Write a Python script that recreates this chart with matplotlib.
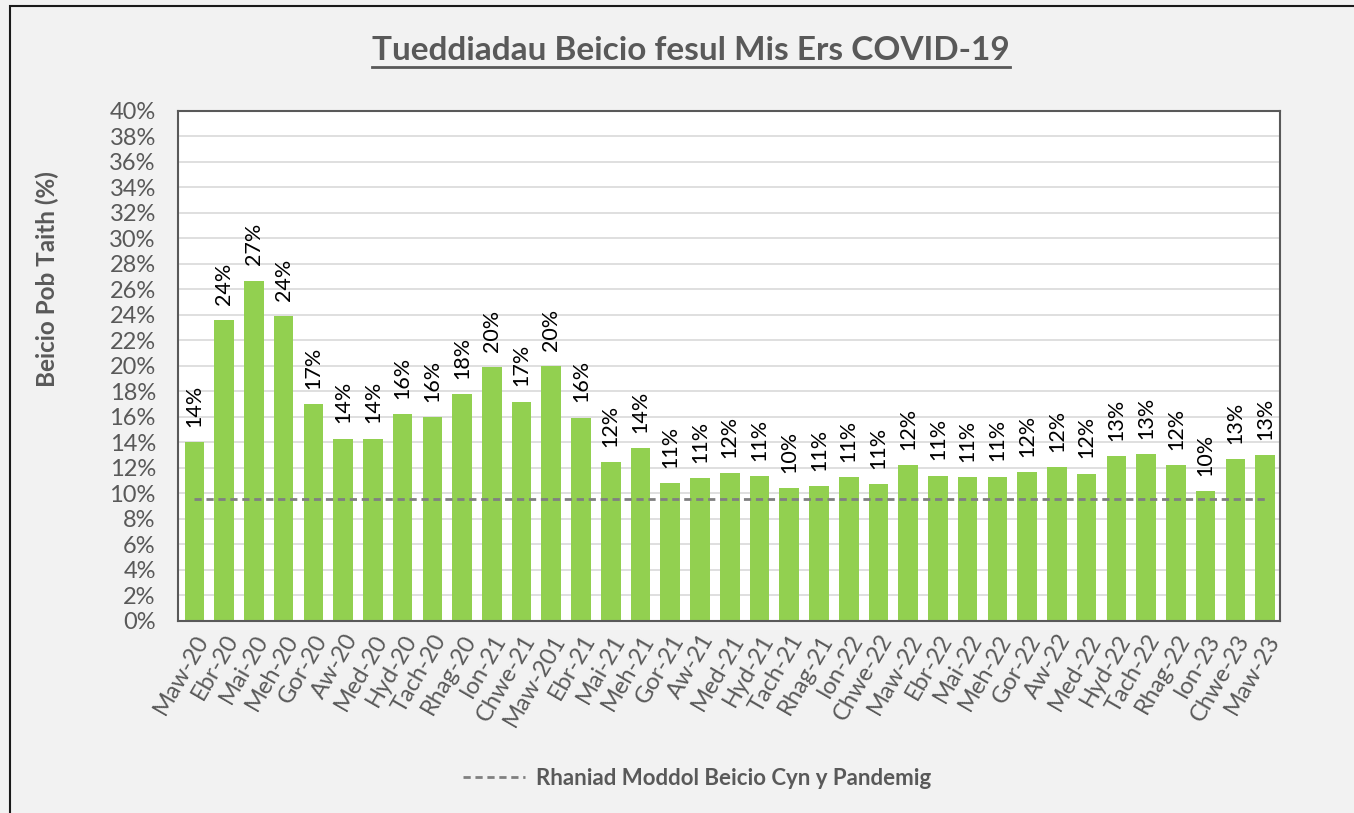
import matplotlib.pyplot as plt
from matplotlib.lines import Line2D
from matplotlib.patches import Rectangle
from matplotlib.ticker import MultipleLocator, PercentFormatter

plt.rcParams["font.family"] = ["Lato", "DejaVu Sans"]

# Monthly share of trips made by bike (%)
months = [
    "Maw-20", "Ebr-20", "Mai-20", "Meh-20", "Gor-20", "Aw-20", "Med-20",
    "Hyd-20", "Tach-20", "Rhag-20", "Ion-21", "Chwe-21", "Maw-201", "Ebr-21",
    "Mai-21", "Meh-21", "Gor-21", "Aw-21", "Med-21", "Hyd-21", "Tach-21",
    "Rhag-21", "Ion-22", "Chwe-22", "Maw-22", "Ebr-22", "Mai-22", "Meh-22",
    "Gor-22", "Aw-22", "Med-22", "Hyd-22", "Tach-22", "Rhag-22", "Ion-23",
    "Chwe-23", "Maw-23",
]
cycling_share = [
    14.0, 23.6, 26.7, 23.9, 17.0, 14.3, 14.3, 16.2, 16.0, 17.8, 19.9, 17.2,
    20.0, 15.95, 12.45, 13.55, 10.8, 11.2, 11.6, 11.36, 10.4, 10.55, 11.3,
    10.75, 12.25, 11.4, 11.3, 11.33, 11.7, 12.06, 11.55, 12.9, 13.1, 12.25,
    10.2, 12.7, 13.0,
]
pre_pandemic_share = 9.6

text_grey = "#595959"

figure = plt.figure(figsize=(13.54, 8.13), dpi=100, facecolor="#f2f2f2")
figure.add_artist(Rectangle((10 / 1354, -0.1), 1.2, 1.1 - 6 / 813,
                            transform=figure.transFigure, fill=False,
                            edgecolor="#1a1a1a", linewidth=1.5))

axes = figure.add_axes([0.1315, 0.2362, 0.8138, 0.6273])
positions = list(range(len(months)))
axes.bar(positions, cycling_share, width=0.66, color="#92d050", zorder=2)
axes.plot(positions, [pre_pandemic_share] * len(months), linestyle=(0, (2.6, 1.7)),
          color="#808080", linewidth=2.0, zorder=3,
          label="Rhaniad Moddol Beicio Cyn y Pandemig")

for position, value in zip(positions, cycling_share):
    axes.annotate(f"{round(value)}%", (position, value), xytext=(0, 11),
                  textcoords="offset points", rotation=90, ha="center",
                  va="bottom", fontsize=15.5, color="black")

axes.set_xlim(-0.55, len(months) - 0.5)
axes.set_ylim(0, 40)
axes.yaxis.set_major_locator(MultipleLocator(2))
axes.yaxis.set_major_formatter(PercentFormatter(decimals=0))
axes.set_xticks(positions)
axes.set_xticklabels(months, rotation=60, ha="right", rotation_mode="anchor")
axes.tick_params(axis="both", length=0, labelsize=17, labelcolor=text_grey)
axes.tick_params(axis="x", pad=7)
axes.tick_params(axis="y", pad=16)
axes.grid(axis="y", color="#d9d9d9", linewidth=1.2, zorder=0)
axes.set_axisbelow(True)
for spine in axes.spines.values():
    spine.set_color(text_grey)
    spine.set_linewidth(1.5)

figure.text(47 / 1354, 1 - 279 / 813, "Beicio Pob Taith (%)", rotation=90,
            ha="center", va="center", fontsize=17.5, fontweight="bold",
            color=text_grey)

title = figure.text(691 / 1354, 1 - 50 / 813,
                    "Tueddiadau Beicio fesul Mis Ers COVID-19", ha="center",
                    va="center", fontsize=24, fontweight="bold", color=text_grey)
figure.canvas.draw()
box = title.get_window_extent().transformed(figure.transFigure.inverted())
figure.add_artist(Line2D([box.x0, box.x1], [box.y0 - 0.003, box.y0 - 0.003],
                         transform=figure.transFigure, color=text_grey,
                         linewidth=2.0))

legend = figure.legend(loc="center", bbox_to_anchor=(697 / 1354, 1 - 778 / 813),
                       frameon=False, handlelength=2.8, handletextpad=0.5,
                       fontsize=16)
for text in legend.get_texts():
    text.set_color(text_grey)
    text.set_fontweight("bold")

figure.savefig("out.png", dpi=100, facecolor=figure.get_facecolor())
